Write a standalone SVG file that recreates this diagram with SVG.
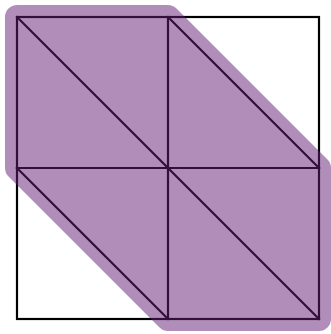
<svg xmlns="http://www.w3.org/2000/svg" width="331" height="334" viewBox="0 0 331 334">
  <style>
    .ln { stroke: #000; stroke-width: 2.2; fill: none; stroke-linecap: square; }
    .hl { fill: #661e76; stroke: #661e76; stroke-width: 24; stroke-linejoin: round; opacity: 0.5; }
  </style>
  <rect x="0" y="0" width="331" height="334" fill="#fff"/>
  <g id="grid">
    <rect class="ln" x="17" y="17" width="302" height="302"/>
    <line class="ln" x1="168" y1="17" x2="168" y2="319"/>
    <line class="ln" x1="17" y1="168" x2="319" y2="168"/>
    <line class="ln" x1="17" y1="17" x2="319" y2="319"/>
    <line class="ln" x1="168" y1="17" x2="319" y2="168"/>
    <line class="ln" x1="17" y1="168" x2="168" y2="319"/>
  </g>
  <g id="highlight">
    <path class="hl" d="M17,17 L168,17 L319,168 L319,319 L168,319 L17,168 Z"/>
  </g>
</svg>
